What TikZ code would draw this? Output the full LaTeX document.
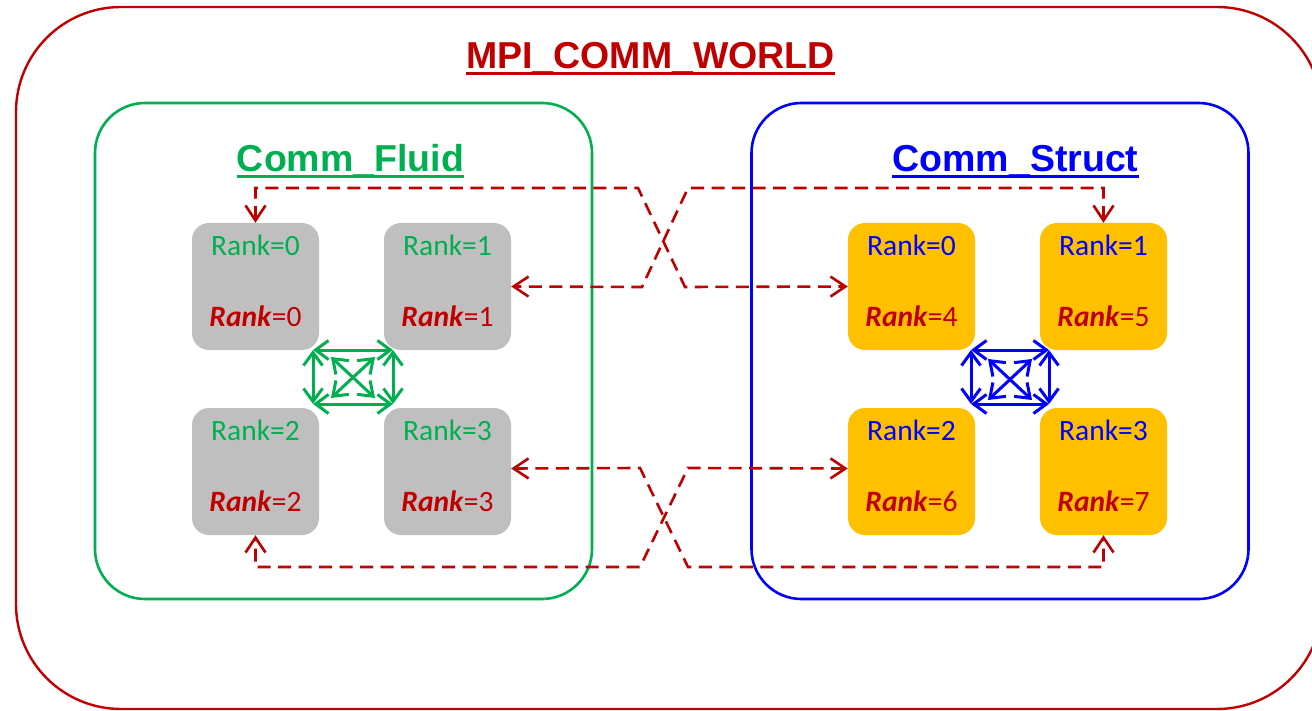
\documentclass[tikz,border=0pt]{standalone}
\usepackage{fontspec}
\setmainfont{Carlito}
\newfontfamily\arialfont{Liberation Sans}
\usetikzlibrary{arrows.meta}
\definecolor{dred}{HTML}{C00000}
\definecolor{fgreen}{HTML}{00B050}
\definecolor{fblue}{HTML}{0000FF}
\definecolor{rgray}{HTML}{BFBFBF}
\definecolor{rorange}{HTML}{FFC000}
\begin{document}
\begin{tikzpicture}[x=1pt,y=-1pt,
  title/.style={font=\arialfont\bfseries\fontsize{37.5}{37.5}\selectfont, inner sep=0pt, anchor=base},
  uline/.style={line width=3pt},
  commbox/.style={rounded corners=50pt, minimum width=497pt, minimum height=496pt, line width=2.6pt, inner sep=0pt},
  rankbox/.style={rounded corners=17pt, minimum width=127pt, minimum height=127pt, inner sep=0pt},
  ranktxt/.style={font=\fontsize{29.5}{29.5}\selectfont, inner sep=0pt, anchor=base},
  rdash/.style={draw=dred, line width=2.6pt, dash pattern=on 13pt off 7.5pt,
     {Straight Barb[length=15pt,width=20pt]}-{Straight Barb[length=15pt,width=20pt]}},
  carrow/.style={line width=3pt,
     {Straight Barb[length=13pt,width=19pt]}-{Straight Barb[length=13pt,width=19pt]}}
]
\useasboundingbox (0,0) rectangle (1312,711);

% outer world
\node[draw=dred, line width=2.4pt, rounded corners=105pt, minimum width=1306pt, minimum height=702pt, inner sep=0pt] (world) at (669,358) {};
\node[title, text=dred] (mpi) at (650.5,69) {MPI\_COMM\_WORLD};
\draw[uline, dred] ([yshift=-5pt]mpi.base west) -- ([yshift=-5pt]mpi.base east);

% communicators
\node[commbox, draw=fgreen] (fluid) at (343.5,351) {};
\node[commbox, draw=fblue] (struct) at (1000,351) {};
\node[title, text=fgreen] (tfluid) at (350.5,172) {Comm\_Fluid};
\draw[uline, fgreen] ([yshift=-5pt]tfluid.base west) -- ([yshift=-5pt]tfluid.base east);
\node[title, text=fblue] (tstruct) at (1015.5,172) {Comm\_Struct};
\draw[uline, fblue] ([yshift=-5pt]tstruct.base west) -- ([yshift=-5pt]tstruct.base east);

% rank boxes
\node[rankbox, fill=rgray] (g0) at (255.5,286.5) {};
\node[rankbox, fill=rgray] (g1) at (447.5,286.5) {};
\node[rankbox, fill=rgray] (g2) at (255.5,471.5) {};
\node[rankbox, fill=rgray] (g3) at (447.5,471.5) {};
\node[rankbox, fill=rorange] (o0) at (911.5,286.5) {};
\node[rankbox, fill=rorange] (o1) at (1103.5,286.5) {};
\node[rankbox, fill=rorange] (o2) at (911.5,471.5) {};
\node[rankbox, fill=rorange] (o3) at (1103.5,471.5) {};

% rank labels
\node[ranktxt, text=fgreen] (g0a) at ([yshift=-33pt]g0.north) {Rank=0};
\node[ranktxt, text=dred] (g0b) at ([yshift=-104pt]g0.north) {\textbf{\textit{Rank}}=0};
\node[ranktxt, text=fgreen] (g1a) at ([yshift=-33pt]g1.north) {Rank=1};
\node[ranktxt, text=dred] (g1b) at ([yshift=-104pt]g1.north) {\textbf{\textit{Rank}}=1};
\node[ranktxt, text=fgreen] (g2a) at ([yshift=-33pt]g2.north) {Rank=2};
\node[ranktxt, text=dred] (g2b) at ([yshift=-104pt]g2.north) {\textbf{\textit{Rank}}=2};
\node[ranktxt, text=fgreen] (g3a) at ([yshift=-33pt]g3.north) {Rank=3};
\node[ranktxt, text=dred] (g3b) at ([yshift=-104pt]g3.north) {\textbf{\textit{Rank}}=3};
\node[ranktxt, text=fblue] (o0a) at ([yshift=-33pt]o0.north) {Rank=0};
\node[ranktxt, text=dred] (o0b) at ([yshift=-104pt]o0.north) {\textbf{\textit{Rank}}=4};
\node[ranktxt, text=fblue] (o1a) at ([yshift=-33pt]o1.north) {Rank=1};
\node[ranktxt, text=dred] (o1b) at ([yshift=-104pt]o1.north) {\textbf{\textit{Rank}}=5};
\node[ranktxt, text=fblue] (o2a) at ([yshift=-33pt]o2.north) {Rank=2};
\node[ranktxt, text=dred] (o2b) at ([yshift=-104pt]o2.north) {\textbf{\textit{Rank}}=6};
\node[ranktxt, text=fblue] (o3a) at ([yshift=-33pt]o3.north) {Rank=3};
\node[ranktxt, text=dred] (o3b) at ([yshift=-104pt]o3.north) {\textbf{\textit{Rank}}=7};

% inter-communicator dashed links
\draw[rdash] (g0.north) -- (255.5,188) -- (638,188) -- (685,287) -- (o0.west);
\draw[rdash] (o1.north) -- (1103.5,188) -- (688,188) -- (642,287) -- (g1.east);
\draw[rdash] ([yshift=3pt]g3.east) -- (640,468) -- (688,567) -- (1103.5,567) -- (o3.south);
\draw[rdash] ([yshift=3pt]o2.west) -- (688,468) -- (640,567) -- (255.5,567) -- (g2.south);

% green intra-communicator arrows
\coordinate (ga) at (313,350);
\coordinate (gb) at (393,350);
\coordinate (gc) at (313,404);
\coordinate (gd) at (393,404);
\coordinate (ga2) at (331,357);
\coordinate (gb2) at (375,357);
\coordinate (gc2) at (331,398);
\coordinate (gd2) at (375,398);
\draw[carrow, fgreen] (ga) -- (gb);
\draw[carrow, fgreen] (gc) -- (gd);
\draw[carrow, fgreen] (ga) -- (gc);
\draw[carrow, fgreen] (gb) -- (gd);
\draw[carrow, fgreen] (ga2) -- (gd2);
\draw[carrow, fgreen] (gb2) -- (gc2);

% blue intra-communicator arrows
\coordinate (ba) at (971,350);
\coordinate (bb) at (1049,350);
\coordinate (bc) at (971,404);
\coordinate (bd) at (1049,404);
\coordinate (ba2) at (988,359);
\coordinate (bb2) at (1032,359);
\coordinate (bc2) at (988,400);
\coordinate (bd2) at (1032,400);
\draw[carrow, fblue] (ba) -- (bb);
\draw[carrow, fblue] (bc) -- (bd);
\draw[carrow, fblue] (ba) -- (bc);
\draw[carrow, fblue] (bb) -- (bd);
\draw[carrow, fblue] (ba2) -- (bd2);
\draw[carrow, fblue] (bb2) -- (bc2);
\end{tikzpicture}
\end{document}
